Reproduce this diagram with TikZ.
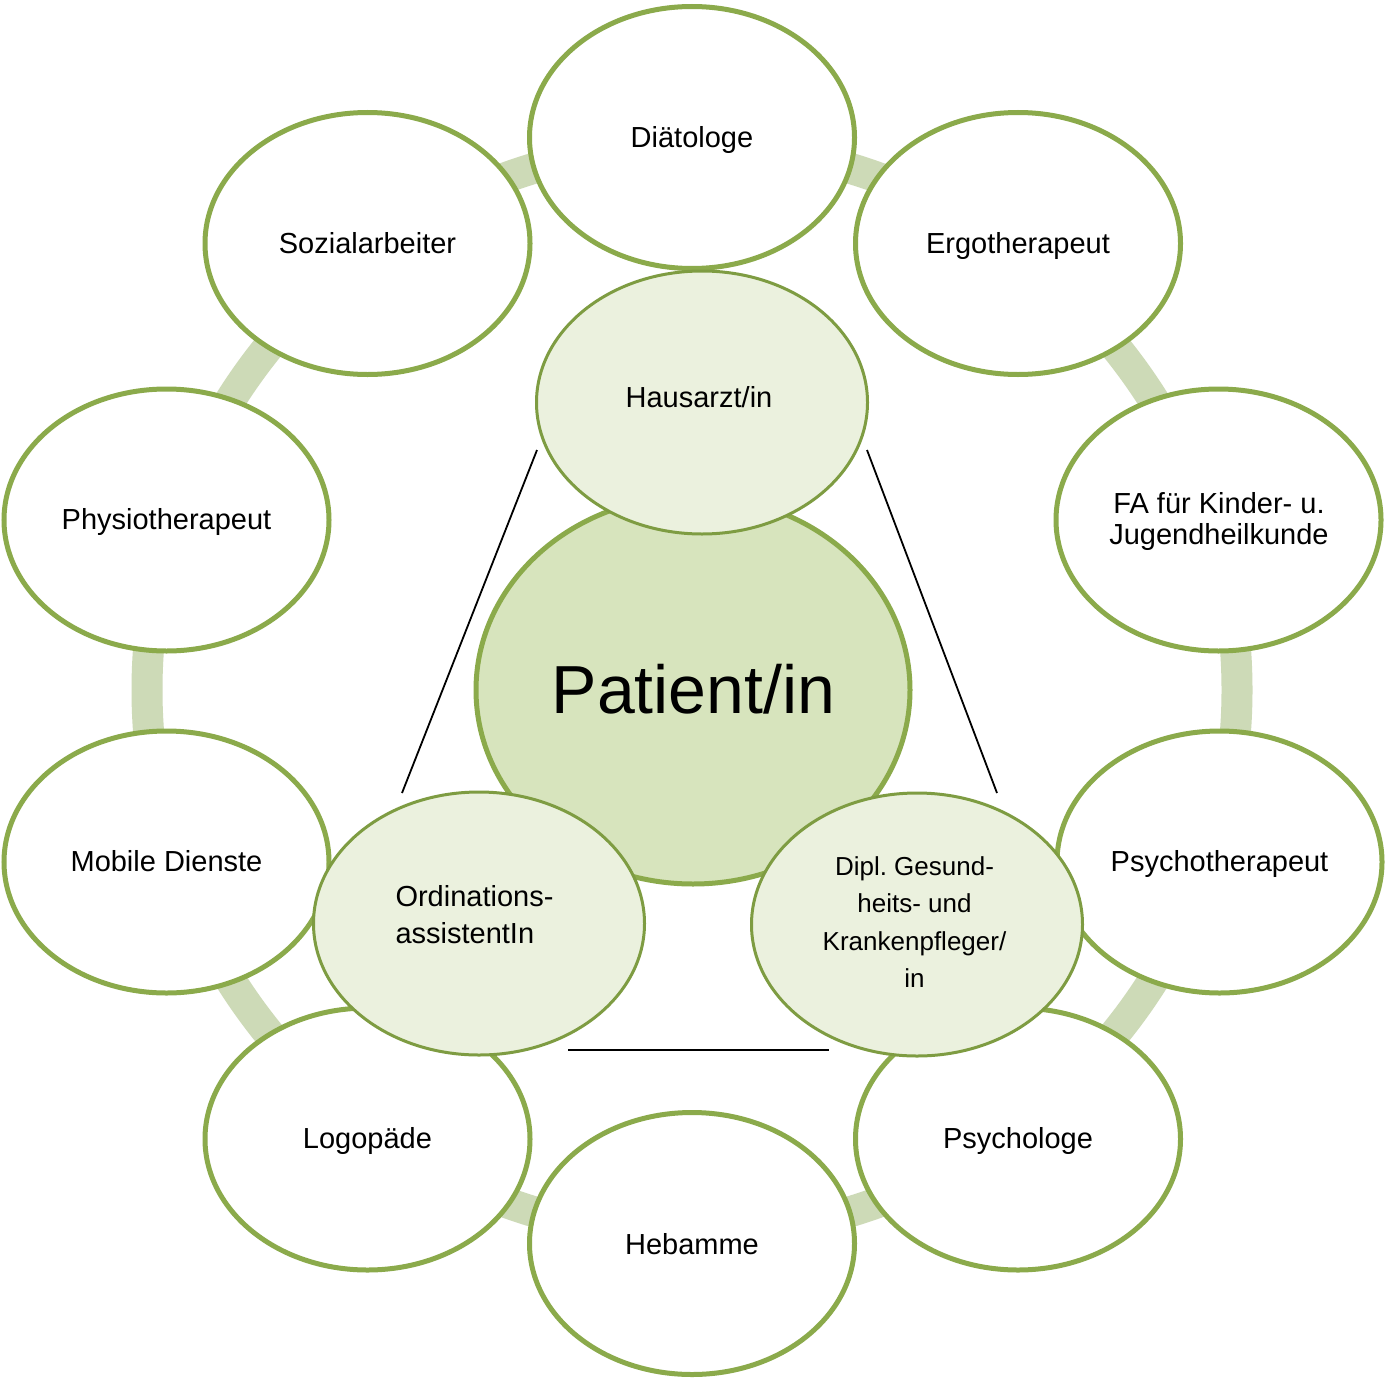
\documentclass[tikz,border=0pt]{standalone}
\usepackage{fontspec}
\setmainfont{Liberation Sans}
\usetikzlibrary{shapes.geometric}
\definecolor{ringc}{HTML}{CDDAB7}
\definecolor{outerline}{HTML}{8BAA4B}
\definecolor{innerline}{HTML}{7E9C42}
\definecolor{patfill}{HTML}{D7E4BD}
\definecolor{innfill}{HTML}{EBF1DE}
\frenchspacing
\begin{document}
\begin{tikzpicture}[x=1pt,y=-1pt,
  outerell/.style={ellipse, draw=outerline, line width=5pt, fill=white,
    minimum width=325pt, minimum height=262pt, inner sep=0pt},
  innerell/.style={ellipse, draw=innerline, line width=3pt, fill=innfill,
    minimum width=331pt, minimum height=263pt, inner sep=0pt},
  patell/.style={ellipse, draw=outerline, line width=5pt, fill=patfill,
    minimum width=434pt, minimum height=388pt, inner sep=0pt},
  lbl/.style={font=\fontsize{29}{32}\selectfont, inner sep=0pt, anchor=base},
  mlbl/.style={inner sep=0pt, anchor=center},
  tri/.style={draw=black, line width=1.8pt}
]
\fill[white] (0,0) rectangle (1386,1378);
\useasboundingbox (0,0) rectangle (1386,1378);

% ring
\draw[ringc, line width=31pt] (692,690) circle[radius=545pt];

% outer ellipses
\node[outerell] (dia) at (692,137.5) {};
\node[outerell] (soz) at (367.5,243.5) {};
\node[outerell] (erg) at (1018,243.5) {};
\node[outerell] (phy) at (166.5,520) {};
\node[outerell] (fa)  at (1218.5,520) {};
\node[outerell] (mob) at (166.5,862) {};
\node[outerell] (pst) at (1219.5,862) {};
\node[outerell] (log) at (367.5,1139) {};
\node[outerell] (psy) at (1018,1139) {};
\node[outerell] (heb) at (692,1243.5) {};

\node[lbl] (tdia) at (692,147) {Diätologe};
\node[lbl] (tsoz) at (367.5,253) {Sozialarbeiter};
\node[lbl] (terg) at (1018,253) {Ergotherapeut};
\node[lbl] (tphy) at (166.5,529) {Physiotherapeut};
\node[mlbl, align=center, font=\fontsize{29}{31}\selectfont] (tfa) at (1219,521) {FA für Kinder- u.\\Jugendheilkunde};
\node[lbl] (tmob) at (166.5,871) {Mobile Dienste};
\node[lbl] (tpst) at (1219.5,871) {Psychotherapeut};
\node[lbl] (tlog) at (367.5,1148) {Logopäde};
\node[lbl] (tpsy) at (1018,1148) {Psychologe};
\node[lbl] (theb) at (692,1254) {Hebamme};

% patient
\node[patell] (pat) at (693,690) {};
\node[lbl, font=\fontsize{68}{70}\selectfont] (tpat) at (693.5,713) {Patient/in};

% inner ellipses
\node[innerell] (haus) at (702,402.5) {};
\node[lbl] (thaus) at (699,407) {Hausarzt/in};
\node[innerell] (ord) at (479,923.5) {};
\node[mlbl, align=left, font=\fontsize{29}{37}\selectfont] (tord) at (474.5,915) {Ordinations-\\assistentIn};
\node[innerell] (dgk) at (917,924.5) {};
\node[mlbl, align=center, font=\fontsize{26}{37.5}\selectfont] (tdgk) at (914.5,922) {Dipl. Gesund-\\heits- und\\Krankenpfleger/\\in};

% triangle lines
\coordinate (hl) at (537,450);
\coordinate (hr) at (867,450);
\coordinate (ol) at (402,793);
\coordinate (dr) at (997,793);
\coordinate (bl) at (568,1050);
\coordinate (br) at (829,1050);
\draw[tri] (hl) -- (ol);
\draw[tri] (hr) -- (dr);
\draw[tri] (bl) -- (br);
\end{tikzpicture}
\end{document}
